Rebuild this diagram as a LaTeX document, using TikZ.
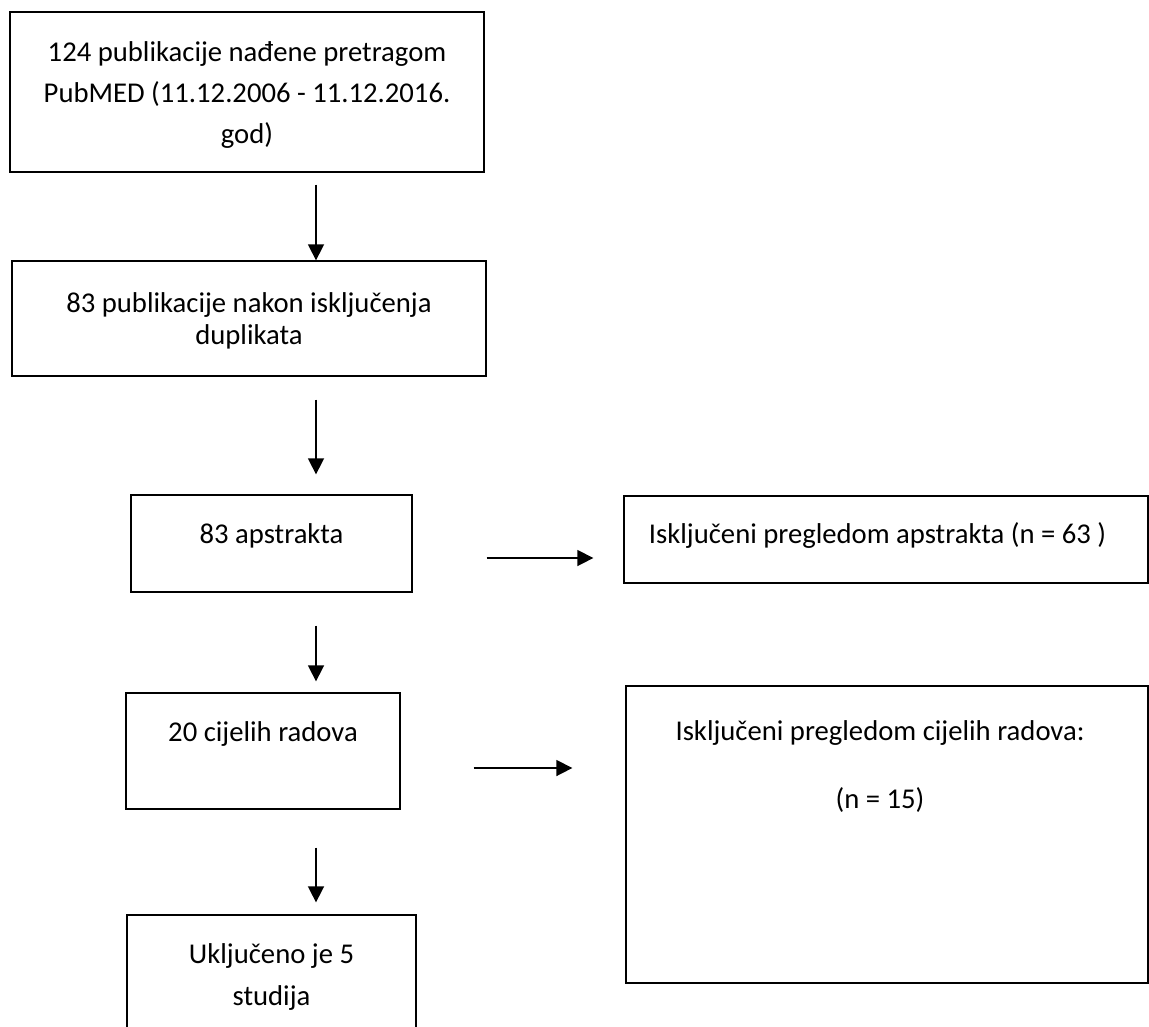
\documentclass[tikz,border=0pt]{standalone}
\usepackage{fontspec}
\setmainfont{Carlito}
\usetikzlibrary{arrows.meta}
\tikzset{
  box/.style={draw, line width=1pt, inner sep=0pt},
  txt/.style={align=center, anchor=base, inner sep=0pt},
  arr/.style={line width=1.2pt, -{Triangle[length=12pt,width=12pt]}}
}
\begin{document}
\begin{tikzpicture}[x=0.75pt, y=-0.75pt, font=\fontsize{21.5}{30}\selectfont]
\useasboundingbox (0,0) rectangle (1149,1026);
% boxes
\node[box, minimum width=355.5pt, minimum height=120pt] (search) at (247,92) {};
\node[box, minimum width=355.5pt, minimum height=86.25pt] (dupl) at (249,318.5) {};
\node[box, minimum width=210.75pt, minimum height=72.75pt] (abs) at (271.5,543.5) {};
\node[box, minimum width=393pt, minimum height=65.25pt] (excla) at (886,539.5) {};
\node[box, minimum width=205.5pt, minimum height=87pt] (full) at (263,751) {};
\node[box, minimum width=391.5pt, minimum height=222.75pt] (exclb) at (887,834.5) {};
\node[box, minimum width=216.75pt, minimum height=127.5pt] (incl) at (271.5,1000) {};
% texts (base = last line)
\node[txt, font=\fontsize{21.5}{30.4}\selectfont] (searcht) at (247,143) {124 publikacije nađene pretragom\\PubMED (11.12.2006 - 11.12.2016.\\god)};
\node[txt, font=\fontsize{21.5}{24}\selectfont] (duplt) at (249,344) {83 publikacije nakon isključenja\\duplikata};
\node[txt] (abst) at (271.5,543) {83 apstrakta};
\node[txt] (exclat) at (877.5,543) {Isključeni pregledom apstrakta (n = 63 )};
\node[txt] (fullt) at (263,741) {20 cijelih radova};
\node[txt, font=\fontsize{21.5}{51}\selectfont] (exclbt) at (880,808) {Isključeni pregledom cijelih radova:\\(n = 15)};
\node[txt, font=\fontsize{21.5}{31.5}\selectfont] (inclt) at (271.5,1005) {Uključeno je 5\\studija};
% arrows
\coordinate (ax) at (316,0);
\coordinate (ha) at (0,558);
\coordinate (hb) at (0,768);
\draw[arr, shorten <=9pt] (search.south -| ax) -- (dupl.north -| ax);
\draw[arr, shorten <=17.25pt, shorten >=15pt] (dupl.south -| ax) -- (abs.north -| ax);
\draw[arr, shorten <=24.75pt, shorten >=8.25pt] (abs.south -| ax) -- (full.north -| ax);
\draw[arr, shorten <=28.5pt, shorten >=9pt] (full.south -| ax) -- (incl.north -| ax);
\draw[arr, shorten <=55.5pt, shorten >=22.5pt] (abs.east |- ha) -- (excla.west |- ha);
\draw[arr, shorten <=54.75pt, shorten >=39.75pt] (full.east |- hb) -- (exclb.west |- hb);
\end{tikzpicture}
\end{document}
